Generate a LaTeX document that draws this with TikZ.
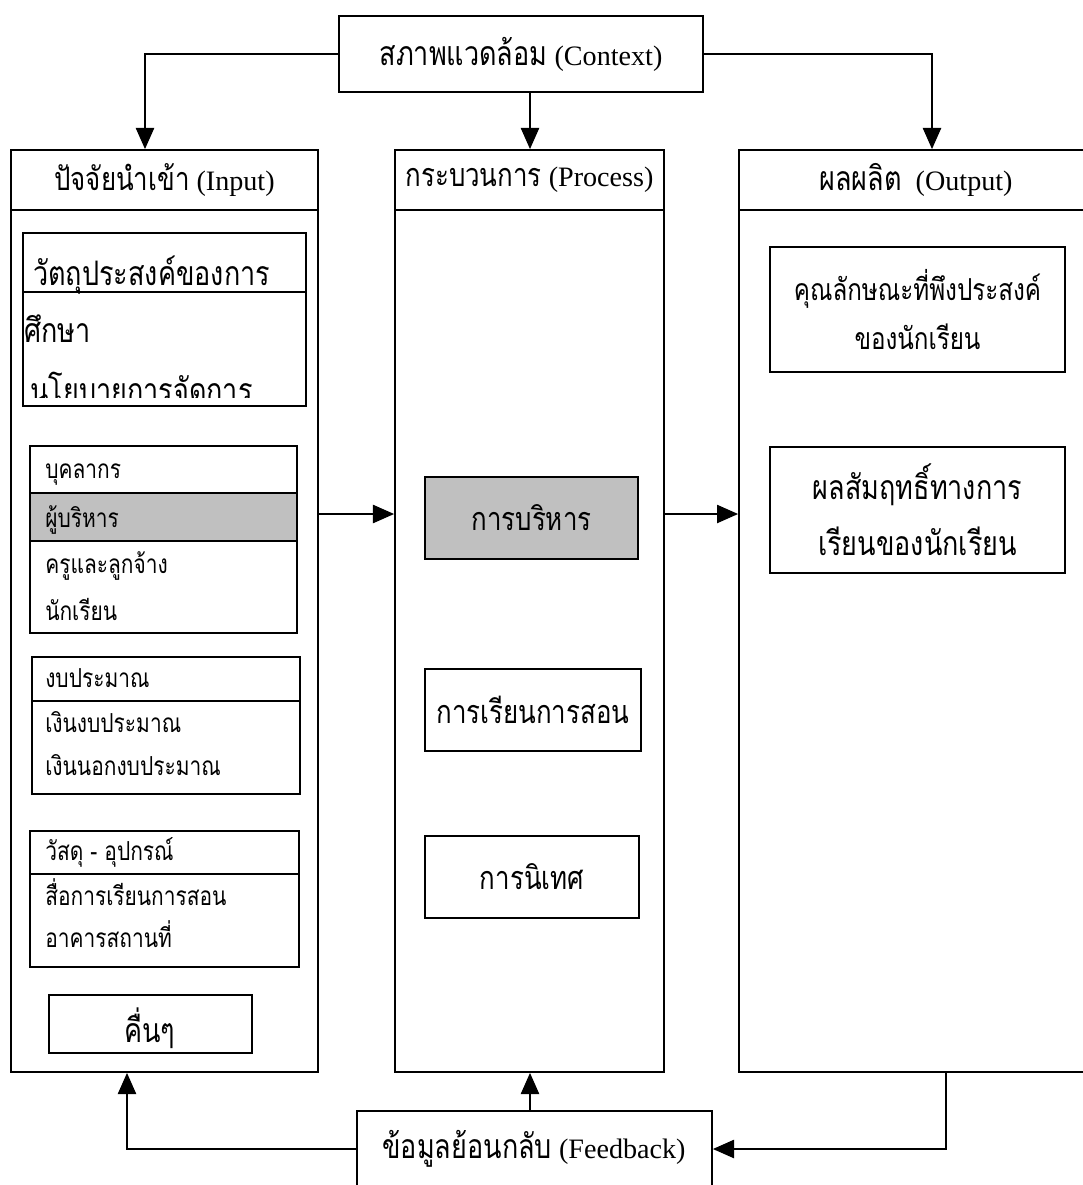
\documentclass[tikz,border=0pt]{standalone}
\usepackage{fontspec}
\setmainfont{Liberation Serif}
\newfontfamily\thaifont[Script=Thai,FakeStretch=0.8]{Loma}
\usetikzlibrary{arrows.meta,fit}
\definecolor{boxgray}{RGB}{192,192,192}

\begin{document}
\begin{tikzpicture}[x=0.025cm,y=-0.025cm,
    box/.style={draw,line width=1.3pt,inner sep=0pt},
    arr/.style={line width=1pt,-{Triangle[length=15pt,width=13pt]}},
    txt/.style={inner sep=0pt,font=\fontsize{20}{24}\selectfont},
    row/.style={inner sep=0pt,anchor=base west,font=\fontsize{18.6}{21}\selectfont\thaifont}]
  \useasboundingbox (0,0) rectangle (1083,1185);

  % context box
  \node[box,fit={(339,16) (703,92)}] (context) {};
  \node[txt] (contexttxt) at (context) {{\fontsize{24}{24}\thaifont สภาพแวดล้อม} (Context)};

  % three columns
  \node[box,fit={(11,150) (318,1072)}] (input) {};
  \node[box,fit={(11,150) (318,210)}] (inhead) {};
  \node[txt] (inheadtxt) at (inhead) {{\fontsize{23}{24}\thaifont ปัจจัยนำเข้า} (Input)};

  \node[box,fit={(395,150) (664,1072)}] (process) {};
  \node[box,fit={(395,150) (664,210)}] (prochead) {};
  \node[txt] (procheadtxt) at (prochead) {{\fontsize{23}{24}\thaifont กระบวนการ} (Process)};

  \node[box,fit={(739,150) (1095,1072)}] (output) {};
  \node[box,fit={(739,150) (1095,210)}] (outhead) {};
  \node[txt] (outheadtxt) at (916,180) {{\fontsize{24}{24}\thaifont ผลผลิต}\ \ (Output)};

  % input items
  \node[box,fit={(23,233) (306,406)}] (aims) {};
  \draw[line width=1.3pt] (aims.west |- 0,292) -- (aims.east |- 0,292);
  \begin{scope}
    \clip (23,233) rectangle (306,397);
    \node[row,font=\fontsize{24}{25}\selectfont\thaifont] (aims1) at (33,285) {วัตถุประสงค์ของการ};
    \node[row,font=\fontsize{24}{25}\selectfont\thaifont] (aims2) at (24,342) {ศึกษา};
    \node[row,font=\fontsize{24}{25}\selectfont\thaifont] (aims3) at (30,402) {นโยบายการจัดการ};
  \end{scope}

  \node[box,fit={(30,446) (297,493)}] (staff) {};
  \node[box,fill=boxgray,fit={(30,493) (297,541)}] (admin) {};
  \node[box,fit={(30,541) (297,633)}] (people) {};
  \node[row] (stafftxt) at (45,478) {บุคลากร};
  \node[row] (admintxt) at (45,527) {ผู้บริหาร};
  \node[row] (teachtxt) at (45,573) {ครูและลูกจ้าง};
  \node[row] (studtxt) at (45,620) {นักเรียน};

  \node[box,fit={(32,657) (300,701)}] (budget) {};
  \node[box,fit={(32,701) (300,794)}] (money) {};
  \node[row] (budgettxt) at (45,687) {งบประมาณ};
  \node[row] (money1) at (45,732) {เงินงบประมาณ};
  \node[row] (money2) at (45,775) {เงินนอกงบประมาณ};

  \node[box,fit={(30,831) (299,874)}] (tools) {};
  \node[box,fit={(30,874) (299,967)}] (media) {};
  \node[row] (toolstxt) at (45,860) {วัสดุ - อุปกรณ์};
  \node[row] (media1) at (45,905) {สื่อการเรียนการสอน};
  \node[row] (media2) at (45,947) {อาคารสถานที่};

  \node[box,fit={(49,995) (252,1053)}] (other) {};
  \node[row,anchor=base,font=\fontsize{24}{26}\selectfont\thaifont] (othertxt) at (150,1042) {คื่นๆ};

  % process items
  \node[box,fill=boxgray,fit={(425,477) (638,559)}] (manage) {};
  \node[txt,font=\fontsize{23}{26}\selectfont\thaifont] (managetxt) at (manage) {การบริหาร};
  \node[box,fit={(425,669) (641,751)}] (teach) {};
  \node[txt,font=\fontsize{23}{26}\selectfont\thaifont] (teachtxt2) at (teach) {การเรียนการสอน};
  \node[box,fit={(425,836) (639,918)}] (super) {};
  \node[txt,font=\fontsize{23}{26}\selectfont\thaifont] (supertxt) at (super) {การนิเทศ};

  % output items
  \node[box,fit={(770,247) (1065,372)}] (trait) {};
  \node[txt,align=center,font=\fontsize{21.5}{35.5}\selectfont\thaifont] (traittxt) at (trait) {คุณลักษณะที่พึงประสงค์\\ของนักเรียน};
  \node[box,fit={(770,447) (1065,573)}] (achieve) {};
  \node[txt,align=center,font=\fontsize{24}{40}\selectfont\thaifont] (achievetxt) at (achieve) {ผลสัมฤทธิ์ทางการ\\เรียนของนักเรียน};

  % feedback box
  \node[box,fit={(357,1111) (712,1187)}] (feedback) {};
  \node[txt] (feedbacktxt) at (534,1149) {{\fontsize{24}{24}\thaifont ข้อมูลย้อนกลับ} (Feedback)};

  % connectors
  \draw[arr] (context.west) -| (145,0 |- inhead.north);
  \draw[arr] (530,0 |- context.south) -- (530,0 |- prochead.north);
  \draw[arr] (context.east) -| (932,0 |- outhead.north);
  \draw[arr] (input.east |- 0,514) -- (process.west |- 0,514);
  \draw[arr] (process.east |- 0,514) -- (output.west |- 0,514);
  \draw[arr] (530,0 |- feedback.north) -- (530,0 |- process.south);
  \draw[arr] (feedback.west) -| (127,0 |- input.south);
  \draw[arr] (946,0 |- output.south) |- (feedback.east);
\end{tikzpicture}
\end{document}
